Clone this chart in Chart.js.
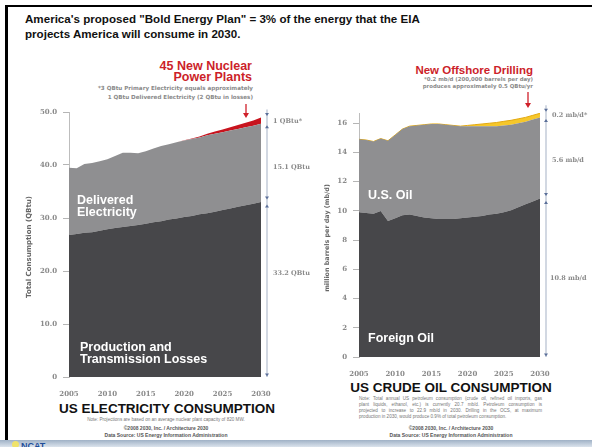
<!DOCTYPE html>
<html>
<head>
<meta charset="utf-8">
<script src="https://cdn.jsdelivr.net/npm/chart.js@4.4.1/dist/chart.umd.min.js"></script>
<style>
    body { margin: 0; width: 592px; height: 447px; overflow: hidden; position: relative; background: #fff; font-family: "Liberation Sans", Arial, sans-serif; }
    .abs { position: absolute; white-space: nowrap; }
    .frame { position: absolute; left: 5px; top: 5px; width: 600px; height: 436px; border-left: 3px solid #000; border-top: 2px solid #000; }
    .header { left: 25px; top: 11px; font-size: 11.6px; font-weight: bold; line-height: 15px; color: #111; }
    .red-title { font-weight: bold; color: #cc1f2a; text-align: right; }
    .small-note { font-family: "DejaVu Sans", sans-serif; font-weight: bold; color: #8a8a8a; text-align: right; }
    .area-label { color: #fff; font-weight: bold; font-size: 12.5px; line-height: 12px; }
    .dim-label { font-family: "DejaVu Serif", serif; font-weight: bold; font-size: 6.5px; color: #8a8a8a; line-height: 8px; }
    .axis-title { font-family: "DejaVu Sans", sans-serif; font-weight: bold; color: #666; transform: translate(-50%, -50%) rotate(-90deg); }
    .chart-title { font-weight: bold; font-size: 13.5px; color: #111; transform: translateX(-50%); }
    .credit { font-weight: bold; font-size: 5px; color: #555; transform: translateX(-50%); line-height: 7px; text-align: center; }
    .fine { font-size: 4.6px; color: #777; line-height: 6px; }
    .just { text-align: justify; text-align-last: justify; }
    canvas { position: absolute; }
</style>
</head>
<body>
<div class="frame"></div>

<div class="abs header">America's proposed "Bold Energy Plan" = 3% of the energy that the EIA<br>projects America will consume in 2030.</div>

<!-- left chart annotations -->
<div class="abs red-title" style="right:340px; top:61px; font-size:12.5px; line-height:11px;">45 New Nuclear<br>Power Plants</div>
<div class="abs small-note" style="right:339px; top:84px; font-size:5.6px; line-height:9px;">*3 QBtu Primary Electricity equals approximately<br>1 QBtu Delivered Electricity (2 QBtu in losses)</div>

<!-- right chart annotations -->
<div class="abs red-title" style="right:59px; top:64px; font-size:11.5px; line-height:12px;">New Offshore Drilling</div>
<div class="abs small-note" style="right:59px; top:76px; font-size:5.4px; line-height:7px;">*0.2 mb/d (200,000 barrels per day)<br>produces approximately 0.5 QBtu/yr</div>

<svg class="abs" style="left:0; top:0;" width="592" height="447">
    <g stroke="#d0202a" fill="#d0202a" stroke-width="1.3">
        <line x1="246" y1="104" x2="246" y2="114"/>
        <polygon points="243,113 249,113 246,118" stroke="none"/>
        <line x1="528" y1="92" x2="528" y2="104"/>
        <polygon points="525,103 531,103 528,108" stroke="none"/>
    </g>
</svg>

<canvas id="electricity-chart" width="300" height="300" style="left:0; top:100px;"></canvas>
<canvas id="oil-chart" width="292" height="280" style="left:300px; top:100px;"></canvas>

<div class="abs axis-title" style="left:29px; top:247px; font-size:7px;">Total Consumption (QBtu)</div>
<div class="abs axis-title" style="left:327px; top:238px; font-size:6.4px;">million barrels per day (mb/d)</div>

<div class="abs area-label" style="left:77px; top:194px;">Delivered<br>Electricity</div>
<div class="abs area-label" style="left:80px; top:341px;">Production and<br>Transmission Losses</div>
<div class="abs area-label" style="left:368px; top:189px;">U.S. Oil</div>
<div class="abs area-label" style="left:368px; top:332px;">Foreign Oil</div>

<div class="abs dim-label" style="left:273px; top:117px;">1 QBtu*</div>
<div class="abs dim-label" style="left:273px; top:163px;">15.1 QBtu</div>
<div class="abs dim-label" style="left:273px; top:269px;">33.2 QBtu</div>
<div class="abs dim-label" style="left:552px; top:111px;">0.2 mb/d*</div>
<div class="abs dim-label" style="left:552px; top:156px;">5.6 mb/d</div>
<div class="abs dim-label" style="left:550px; top:274px;">10.8 mb/d</div>

<div class="abs chart-title" style="left:167px; top:401px;">US ELECTRICITY CONSUMPTION</div>
<div class="abs chart-title" style="left:451px; top:380px;">US CRUDE OIL CONSUMPTION</div>

<div class="abs fine" style="left:166px; top:417px; transform:translateX(-50%);">Note: Projections are based on an average nuclear plant capacity of 820 MW.</div>
<div class="abs credit" style="left:166px; top:425px;">©2008 2030, Inc. / Architecture 2030<br>Data Source: US Energy Information Administration</div>

<div class="abs fine" style="left:359px; top:396px; width:183px; white-space:normal;">
    <div class="just">Note: Total annual US petroleum consumption (crude oil, refined oil imports, gas</div>
    <div class="just">plant liquids, ethanol, etc.) is currently 20.7 mb/d. Petroleum consumption is</div>
    <div class="just">projected to increase to 22.9 mb/d in 2030. Drilling in the OCS, at maximum</div>
    <div>production in 2030, would produce 0.9% of total petroleum consumption.</div>
</div>
<div class="abs credit" style="left:451px; top:425px;">©2008 2030, Inc. / Architecture 2030<br>Data Source: US Energy Information Administration</div>

<div class="abs" style="left:0; top:440px; width:592px; height:7px; background:linear-gradient(#9fb1c6, #dbe3ec);"></div>
<div class="abs" style="left:12px; top:441px; width:7px; height:7px; border-radius:50%; background:#efe26a;"></div>
<div class="abs" style="left:21px; top:441px; font-size:9px; font-weight:bold; color:#1f4e9a;">NCAT</div>

<script>
// Shared x categories and tick labels
const years = ['2005', '2006', '2007', '2008', '2009', '2010', '2011', '2012', '2013',
    '2014', '2015', '2016', '2017', '2018', '2019', '2020', '2021', '2022', '2023',
    '2024', '2025', '2026', '2027', '2028', '2029', '2030'];
const yearTickLabels = ['2005', '2010', '2015', '2020', '2025', '2030'];

// US electricity consumption (QBtu), stacked
const lossesQBtu = [26.8, 27.0, 27.2, 27.3, 27.6, 27.9, 28.1, 28.3, 28.5, 28.7, 28.9, 29.2, 29.4,
    29.7, 29.9, 30.2, 30.4, 30.7, 30.9, 31.2, 31.5, 31.8, 32.1, 32.4, 32.7, 33.0];
const deliveredQBtu = [12.7, 12.4, 13.0, 13.1, 13.1, 13.2, 13.6, 14.0, 13.8, 13.5, 13.7, 13.9, 14.2,
    14.2, 14.4, 14.4, 14.5, 14.5, 14.7, 14.7, 14.7, 14.7, 14.7, 14.7, 14.7, 14.8];
const nuclearQBtu = [0, 0, 0, 0, 0, 0, 0, 0, 0, 0, 0, 0, 0,
    0, 0, 0.05, 0.12, 0.2, 0.3, 0.4, 0.5, 0.62, 0.75, 0.88, 1.0, 1.15];
const electricityTicks = [0, 10, 20, 30, 40, 50];

// US crude oil consumption (mb/d), stacked
const foreignOilMbd = [9.9, 9.85, 9.8, 10.0, 9.3, 9.5, 9.7, 9.75, 9.65, 9.55, 9.5, 9.45, 9.45,
    9.45, 9.5, 9.55, 9.6, 9.65, 9.75, 9.8, 9.9, 10.05, 10.25, 10.45, 10.65, 10.85];
const usOilMbd = [5.0, 5.0, 4.95, 4.95, 5.5, 5.7, 5.9, 6.05, 6.2, 6.35, 6.45, 6.5, 6.45,
    6.4, 6.3, 6.25, 6.2, 6.15, 6.05, 6.0, 5.95, 5.85, 5.75, 5.65, 5.6, 5.55];
const offshoreMbd = [0, 0, 0, 0, 0, 0, 0, 0, 0, 0, 0, 0, 0,
    0, 0, 0.05, 0.1, 0.15, 0.2, 0.25, 0.28, 0.3, 0.3, 0.3, 0.29, 0.28];
const oilTicks = [0, 2, 4, 6, 8, 10, 12, 14, 16];

document.addEventListener('DOMContentLoaded', function() {
    initializeCharts();
});

// Dimension line with small arrowheads at the right of the plot, at the 2030 stack boundaries
const dimensionLines = {
    id: 'dimensionLines',
    afterDraw(chart) {
        const { ctx, chartArea, scales } = chart;
        const y = scales.y;
        const last = chart.data.labels.length - 1;
        let sum = 0;
        const tops = chart.data.datasets.map(ds => (sum += ds.data[last]));
        const x = chartArea.right + 6;
        const yTop = y.getPixelForValue(tops[2]);
        const yMid = y.getPixelForValue(tops[1]);
        const yLow = y.getPixelForValue(tops[0]);
        const yZero = y.getPixelForValue(0);

        ctx.save();
        ctx.strokeStyle = '#c3cbd9';
        ctx.lineWidth = 1.5;
        ctx.beginPath();
        ctx.moveTo(x, yTop - 8);
        ctx.lineTo(x, yZero);
        ctx.stroke();

        ctx.fillStyle = '#5b6f99';
        const tri = (cy, down) => {
            ctx.beginPath();
            ctx.moveTo(x - 2, cy - (down ? 1.5 : -1.5));
            ctx.lineTo(x + 2, cy - (down ? 1.5 : -1.5));
            ctx.lineTo(x, cy + (down ? 1.5 : -1.5));
            ctx.closePath();
            ctx.fill();
        };
        tri(yTop - 3, true);
        tri(yMid + 3, false);
        tri(yLow - 4, true);
        tri(yLow + 4, false);
        tri(yZero - 2, true);
        ctx.restore();
    }
};

function areaDataset(label, data, color, border) {
    return {
        label: label,
        data: data,
        backgroundColor: color,
        borderColor: border || color,
        borderWidth: border ? 1 : 0,
        pointRadius: 0,
        tension: 0,
        fill: label === 'base' ? 'origin' : '-1'
    };
}

function chartOptions(ticksList, maxValue, yWidth, padding, formatTick) {
    const tickFont = { family: 'DejaVu Serif', weight: 'bold', size: 7 };
    return {
        responsive: false,
        animation: false,
        devicePixelRatio: 1,
        layout: { padding: padding },
        plugins: {
            legend: { display: false },
            tooltip: { enabled: false }
        },
        scales: {
            x: {
                grid: { display: false },
                border: { display: false },
                ticks: {
                    autoSkip: false,
                    maxRotation: 0,
                    padding: 5,
                    color: '#8a8a8a',
                    font: tickFont,
                    callback: function(value, index) {
                        const label = years[index];
                        return yearTickLabels.includes(label) ? label : '';
                    }
                },
                afterFit: function(scale) { scale.height = 23; }
            },
            y: {
                stacked: true,
                min: 0,
                max: maxValue,
                grid: { drawOnChartArea: false, drawTicks: true, tickLength: 6, color: '#b5b5b5' },
                border: { display: true, color: '#bdbdbd', width: 1 },
                ticks: {
                    includeBounds: false,
                    stepSize: ticksList[1] - ticksList[0],
                    padding: 6,
                    color: '#8a8a8a',
                    font: tickFont,
                    callback: function(value) {
                        return ticksList.includes(value) ? formatTick(value) : '';
                    }
                },
                afterFit: function(scale) { scale.width = yWidth; }
            }
        }
    };
}

function initializeCharts() {
    // US electricity consumption
    const electricityCanvas = document.getElementById('electricity-chart');
    if (electricityCanvas) {
        new Chart(electricityCanvas, {
            type: 'line',
            data: {
                labels: years,
                datasets: [
                    areaDataset('base', lossesQBtu, '#47474a'),
                    areaDataset('Delivered Electricity', deliveredQBtu, '#8f8f91'),
                    areaDataset('45 New Nuclear Power Plants', nuclearQBtu, '#c8141e')
                ]
            },
            options: chartOptions(electricityTicks, 50, 69,
                { top: 12, right: 39, left: 0, bottom: 0 },
                v => (v === 0 ? '0' : v.toFixed(1))),
            plugins: [dimensionLines]
        });
    }

    // US crude oil consumption
    const oilCanvas = document.getElementById('oil-chart');
    if (oilCanvas) {
        new Chart(oilCanvas, {
            type: 'line',
            data: {
                labels: years,
                datasets: [
                    areaDataset('base', foreignOilMbd, '#47474a'),
                    areaDataset('U.S. Oil', usOilMbd, '#8f8f91'),
                    areaDataset('New Offshore Drilling', offshoreMbd, '#f6c72a', '#e3a912')
                ]
            },
            options: chartOptions(oilTicks, 16.7, 59,
                { top: 13, right: 52, left: 0, bottom: 0 },
                v => String(v)),
            plugins: [dimensionLines]
        });
    }
}
</script>
</body>
</html>
